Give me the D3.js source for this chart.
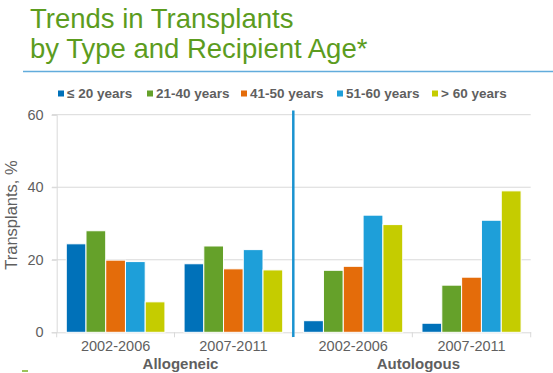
<!DOCTYPE html>
<html>
<head>
<meta charset="utf-8">
<script src="https://cdn.jsdelivr.net/npm/d3@7"></script>
<style>
  body { margin: 0; background: #fff; }
  text { font-family: Arial, 'Liberation Sans', sans-serif; }
</style>
</head>
<body>
<div id="chart"></div>
<script>
const titleLines = ['Trends in Transplants', 'by Type and Recipient Age*'];
const ageGroups = ['≤ 20 years', '21-40 years', '41-50 years', '51-60 years', '> 60 years'];
const ageColors = ['#0071b9', '#65a12a', '#e46c0a', '#1e9fd9', '#c5cc00'];
const periods = ['2002-2006', '2007-2011'];
const transplantTypes = ['Allogeneic', 'Autologous'];
const yTicks = [0, 20, 40, 60];

// percent of transplants, one row per period, one value per age group
const allogeneic = [
    [24.4, 28.0, 19.9, 19.5, 8.4],
    [18.9, 23.8, 17.5, 22.8, 17.2]
];
const autologous = [
    [3.2, 17.1, 18.2, 32.3, 29.7],
    [2.5, 13.0, 15.2, 30.9, 39.0]
];
const seriesByType = [allogeneic, autologous];

const width = 553, height = 373;
const grey = '#5f5f5f';

const svg = d3.select('#chart').append('svg')
    .attr('width', width)
    .attr('height', height);

// title
svg.append('g').selectAll('text')
    .data(titleLines)
    .join('text')
    .attr('x', 30)
    .attr('y', (_, i) => 28 + i * 30)
    .attr('fill', '#5c9c1e')
    .attr('font-size', 27.5)
    .text(d => d);

svg.append('line')
    .attr('x1', 23).attr('x2', width)
    .attr('y1', 71.5).attr('y2', 71.5)
    .attr('stroke', '#62acdc')
    .attr('stroke-width', 1.5);

// legend
const legendX = [58, 147, 241, 337, 432];
const legend = svg.append('g').selectAll('g')
    .data(ageGroups)
    .join('g')
    .attr('transform', (_, i) => 'translate(' + legendX[i] + ',0)');
legend.append('rect')
    .attr('x', 0).attr('y', 90.5)
    .attr('width', 6).attr('height', 6)
    .attr('fill', (_, i) => ageColors[i]);
legend.append('text')
    .attr('x', 9).attr('y', 97.5)
    .attr('font-size', 13.5)
    .attr('font-weight', 'bold')
    .attr('fill', grey)
    .text(d => d);

const y = d3.scaleLinear().domain([0, 60]).range([332.3, 114.7]);
const panelRanges = [[56.7, 292.3], [294, 530.7]];

// gridlines across both panels
svg.append('g').selectAll('line')
    .data(yTicks.filter(t => t > 0))
    .join('line')
    .attr('x1', 52).attr('x2', 530.7)
    .attr('y1', d => y(d)).attr('y2', d => y(d))
    .attr('stroke', '#d9d9d9');

// y axis
const yAxis = svg.append('g')
    .attr('transform', 'translate(56.7,0)')
    .call(d3.axisLeft(y).tickValues(yTicks).tickSize(5).tickPadding(8));
yAxis.select('.domain').attr('stroke', '#d9d9d9');
yAxis.selectAll('.tick line').attr('stroke', '#d9d9d9');
yAxis.selectAll('.tick text')
    .attr('font-size', 14.5)
    .attr('font-family', 'Arial, Liberation Sans, sans-serif')
    .attr('fill', grey);

svg.append('text')
    .attr('transform', 'translate(17,215) rotate(-90)')
    .attr('text-anchor', 'middle')
    .attr('font-size', 16.5)
    .attr('fill', grey)
    .text('Transplants, %');

seriesByType.forEach((rows, p) => {
    const x0 = d3.scaleBand().domain(periods).range(panelRanges[p]);
    const x1 = d3.scaleBand().domain(d3.range(ageGroups.length))
        .range([0, x0.bandwidth()])
        .paddingOuter(0.485);

    const panel = svg.append('g');

    const xAxis = panel.append('g')
        .attr('transform', 'translate(0,' + y(0) + ')')
        .call(d3.axisBottom(x0).tickSize(0).tickPadding(8));
    xAxis.select('.domain').attr('stroke', '#d9d9d9');
    xAxis.selectAll('.tick text')
        .attr('font-size', 14.5)
        .attr('font-family', 'Arial, Liberation Sans, sans-serif')
        .attr('fill', grey);

    // category boundary ticks
    panel.append('g').selectAll('line')
        .data(periods.map(d => x0(d)).concat([panelRanges[p][1]]).slice(p === 0 ? 0 : 1))
        .join('line')
        .attr('x1', d => d).attr('x2', d => d)
        .attr('y1', y(0)).attr('y2', y(0) + 5)
        .attr('stroke', '#d9d9d9');

    panel.append('g').selectAll('g')
        .data(rows)
        .join('g')
        .attr('transform', (_, i) => 'translate(' + x0(periods[i]) + ',0)')
        .selectAll('rect')
        .data(d => d)
        .join('rect')
        .attr('x', (_, j) => x1(j))
        .attr('y', d => y(d))
        .attr('width', x1.bandwidth())
        .attr('height', d => y(0) - y(d))
        .attr('fill', (_, j) => ageColors[j])
        .attr('stroke', '#fff')
        .attr('stroke-width', 1);

    const mid = (panelRanges[p][0] + panelRanges[p][1]) / 2;
    panel.append('text')
        .attr('x', mid + 6)
        .attr('y', 369)
        .attr('text-anchor', 'middle')
        .attr('font-size', 15)
        .attr('font-weight', 'bold')
        .attr('fill', grey)
        .text(transplantTypes[p]);
});

// separator between allogeneic and autologous
svg.append('line')
    .attr('x1', 293.3).attr('x2', 293.3)
    .attr('y1', 110.5).attr('y2', 337)
    .attr('stroke', '#1a93d0')
    .attr('stroke-width', 2.5);

// small slide mark at the bottom left
svg.append('line')
    .attr('x1', 22).attr('x2', 28)
    .attr('y1', 371).attr('y2', 371)
    .attr('stroke', '#9bc35a')
    .attr('stroke-width', 2);
</script>
</body>
</html>
